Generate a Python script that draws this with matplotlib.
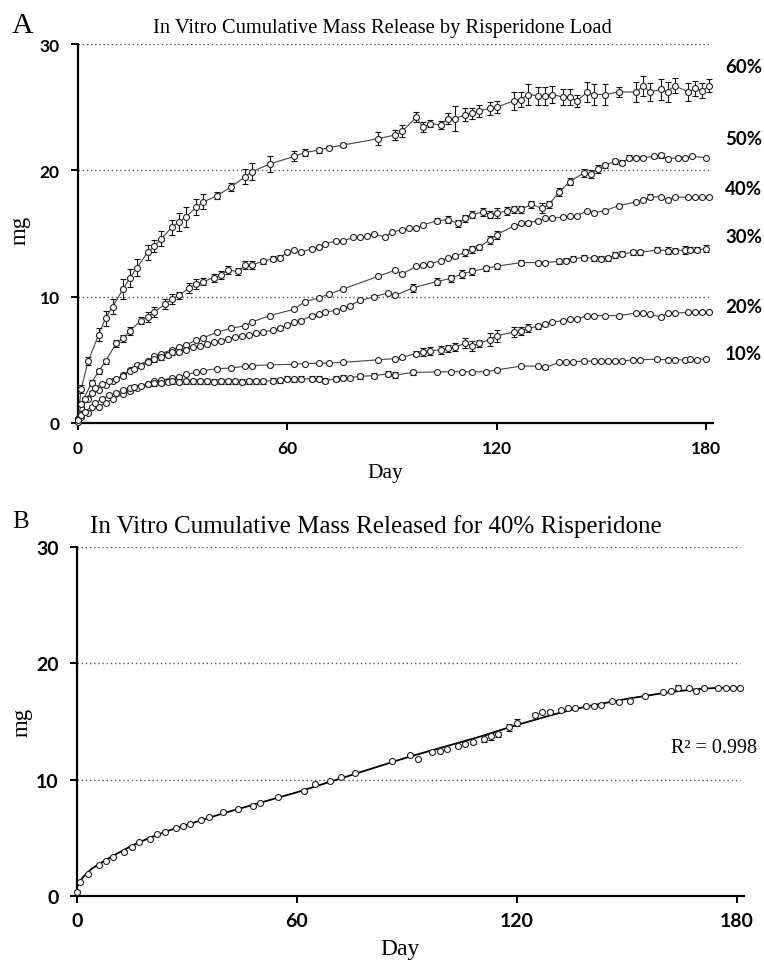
"""
Liberação cumulativa in vitro de risperidona (painéis A e B).
"""
import matplotlib

matplotlib.use("Agg")
import matplotlib.pyplot as plt

SERIF = ["Liberation Serif", "DejaVu Serif"]
SANS = ["Lato", "DejaVu Sans"]

# --- painel A: dias, média (mg) e erro por carga ---
days_60 = [0, 1, 3, 6, 8, 10, 13, 15, 17, 20, 22, 24, 27, 29, 31, 34, 36, 40, 44, 48, 50, 55,
           62, 65, 69, 72, 76, 86, 91, 93, 97, 99, 101, 104, 106, 108, 111, 113, 115, 118, 120,
           125, 127, 129, 132, 134, 136, 139, 141, 143, 146, 148, 151, 155, 160, 162, 164, 167,
           169, 171, 175, 177, 179, 181]
mg_60 = [0.3, 2.7, 4.9, 7.0, 8.3, 9.2, 10.6, 11.5, 12.3, 13.5, 14.0, 14.6, 15.5, 15.9, 16.3, 17.1,
         17.5, 18.0, 18.7, 19.5, 19.9, 20.5, 21.1, 21.4, 21.6, 21.8, 22.0, 22.5, 22.8, 23.1, 24.2,
         23.4, 23.7, 23.6, 24.1, 24.1, 24.4, 24.5, 24.7, 24.9, 25.0, 25.5, 25.6, 26.0, 25.9, 25.9,
         26.0, 25.8, 25.8, 25.5, 26.2, 26.0, 26.0, 26.2, 26.2, 26.7, 26.2, 26.4, 26.2, 26.7, 26.2,
         26.5, 26.3, 26.7]
err_60 = [0.1, 0.3, 0.3, 0.5, 0.6, 0.6, 0.8, 0.7, 0.7, 0.6, 0.5, 0.6, 0.6, 0.7, 0.8, 0.6, 0.6,
          0.3, 0.3, 0.6, 0.7, 0.6, 0.4, 0.3, 0.2, 0.15, 0.15, 0.5, 0.4, 0.5, 0.4, 0.4, 0.3, 0.3,
          0.4, 1.0, 0.5, 0.4, 0.5, 0.5, 0.5, 0.7, 0.6, 0.8, 0.7, 0.7, 0.7, 0.6, 0.6, 0.5, 0.8,
          0.8, 0.8, 0.4, 0.8, 0.8, 0.7, 0.8, 0.8, 0.6, 0.7, 0.6, 0.6, 0.5]

days_50 = [0, 1, 4, 6, 8, 11, 13, 15, 18, 20, 22, 25, 27, 29, 32, 34, 36, 39, 41, 43, 46, 48, 50,
           53, 56, 58, 60, 62, 64, 67, 69, 71, 74, 76, 79, 81, 83, 85, 88, 90, 93, 95, 97, 99, 103,
           106, 109, 111, 113, 116, 118, 120, 123, 125, 127, 130, 133, 135, 138, 141, 145, 147,
           149, 151, 154, 156, 158, 160, 162, 165, 167, 169, 172, 174, 176, 180]
mg_50 = [0.3, 1.5, 3.2, 4.1, 4.9, 6.3, 6.7, 7.3, 8.1, 8.4, 8.8, 9.4, 9.8, 10.1, 10.7, 11.0, 11.2,
         11.5, 11.7, 12.1, 12.0, 12.5, 12.5, 12.8, 13.0, 13.1, 13.5, 13.7, 13.5, 13.8, 13.9, 14.2,
         14.4, 14.4, 14.7, 14.7, 14.8, 15.0, 14.7, 15.1, 15.3, 15.4, 15.4, 15.7, 16.0, 16.1, 15.8,
         16.2, 16.5, 16.7, 16.5, 16.6, 16.8, 16.9, 16.9, 17.3, 17.0, 17.3, 18.3, 19.1, 19.8, 19.7,
         20.1, 20.4, 20.7, 20.6, 21.0, 21.0, 21.0, 21.1, 21.2, 20.9, 21.0, 21.0, 21.1, 21.0]
err_50 = [0.05, 0.2, 0.2, 0.2, 0.2, 0.3, 0.3, 0.3, 0.3, 0.4, 0.4, 0.4, 0.4, 0.3, 0.4, 0.4, 0.3,
          0.3, 0.3, 0.3, 0.3, 0.3, 0.3, 0.2, 0.2, 0.2, 0.15, 0.1, 0.1, 0.1, 0.1, 0, 0, 0, 0, 0,
          0, 0, 0, 0, 0, 0, 0, 0, 0.2, 0.3, 0.3, 0.3, 0.3, 0.3, 0.3, 0.4, 0.3, 0.3, 0.3, 0.3,
          0.4, 0.3, 0.3, 0.3, 0.3, 0.3, 0.3, 0.2, 0.2, 0.2, 0.2, 0.1, 0.1, 0.1, 0.2, 0.1, 0.1,
          0, 0, 0]

days_40 = [0, 1, 3, 6, 8, 10, 13, 15, 17, 20, 22, 24, 27, 29, 31, 34, 36, 40, 44, 48, 50, 55, 62,
           65, 69, 72, 76, 86, 91, 93, 97, 99, 101, 104, 106, 108, 111, 113, 115, 118, 120, 125,
           127, 129, 132, 134, 136, 139, 141, 143, 146, 148, 151, 155, 160, 162, 164, 167, 169,
           171, 175, 177, 179, 181]
mg_40 = [0.35, 1.2, 1.9, 2.65, 3.0, 3.3, 3.8, 4.2, 4.6, 4.9, 5.3, 5.5, 5.8, 6.0, 6.2, 6.55, 6.75,
         7.2, 7.5, 7.7, 8.0, 8.5, 9.0, 9.6, 9.9, 10.2, 10.6, 11.6, 12.1, 11.8, 12.4, 12.5, 12.6,
         12.85, 13.05, 13.2, 13.5, 13.75, 13.9, 14.5, 14.9, 15.6, 15.8, 15.85, 16.0, 16.2, 16.2,
         16.3, 16.35, 16.4, 16.8, 16.65, 16.8, 17.2, 17.5, 17.65, 17.9, 17.9, 17.65, 17.9, 17.85,
         17.85, 17.85, 17.85]
err_40 = [0.05, 0.05, 0.05, 0.05, 0.05, 0.05, 0.05, 0.05, 0.05, 0.05, 0.05, 0.05, 0.05, 0.05,
          0.05, 0.05, 0.05, 0.05, 0.05, 0.05, 0.05, 0.05, 0.05, 0.05, 0.05, 0.05, 0.05, 0.05,
          0.05, 0.05, 0.05, 0.05, 0.05, 0.05, 0.05, 0.1, 0.3, 0.3, 0.2, 0.3, 0.3, 0.1, 0.1, 0.1,
          0.05, 0.05, 0.05, 0.05, 0.05, 0.05, 0.05, 0.05, 0.05, 0.05, 0.05, 0.05, 0.2, 0.05,
          0.05, 0.05, 0.05, 0.05, 0.05, 0.05]

days_30 = [0, 1, 2, 4, 5, 7, 9, 11, 13, 15, 16, 18, 20, 22, 24, 26, 27, 29, 31, 33, 35, 37, 39,
           41, 43, 45, 47, 49, 51, 53, 56, 58, 60, 62, 64, 67, 69, 71, 74, 76, 78, 81, 85, 89, 91,
           96, 103, 107, 110, 113, 117, 120, 127, 132, 134, 138, 140, 142, 145, 148, 150, 152,
           154, 156, 159, 161, 166, 169, 171, 174, 175.5, 177.5, 180]
mg_30 = [0.3, 1.5, 1.9, 2.4, 2.8, 3.1, 3.3, 3.5, 3.75, 4.15, 4.3, 4.55, 4.8, 5.05, 5.2, 5.4, 5.6,
         5.65, 5.8, 6.0, 6.1, 6.25, 6.4, 6.5, 6.65, 6.8, 6.9, 6.95, 7.1, 7.2, 7.35, 7.5, 7.75, 8.0,
         8.1, 8.5, 8.6, 8.8, 8.9, 9.1, 9.3, 9.7, 10.0, 10.3, 10.1, 10.7, 11.2, 11.45, 11.8, 12.0,
         12.25, 12.4, 12.7, 12.7, 12.7, 12.8, 12.85, 13.0, 13.1, 13.05, 13.0, 13.05, 13.3, 13.4,
         13.5, 13.5, 13.7, 13.65, 13.65, 13.7, 13.7, 13.7, 13.8]
err_30 = [0.05, 0.1, 0.1, 0.1, 0.1, 0.1, 0.1, 0.1, 0.1, 0.1, 0.1, 0.1, 0.1, 0.2, 0.2, 0.2, 0.2,
          0.2, 0.1, 0.1, 0.1, 0.1, 0.1, 0.1, 0.1, 0.1, 0.1, 0.1, 0.1, 0.1, 0.1, 0.1, 0.1, 0.1,
          0.1, 0.1, 0.1, 0.1, 0.1, 0.1, 0.1, 0.1, 0.1, 0.1, 0.1, 0.3, 0.3, 0.3, 0.3, 0.3, 0.2,
          0.2, 0.2, 0.1, 0.1, 0.2, 0.2, 0.2, 0.2, 0.2, 0.2, 0.2, 0.2, 0.2, 0.2, 0.2, 0.2, 0.3,
          0.2, 0.3, 0.2, 0.2, 0.3]

days_20 = [0, 1, 3, 6, 8, 10, 13, 15, 17, 20, 22, 24, 27, 29, 31, 34, 36, 40, 44, 48, 50, 55, 62,
           65, 69, 72, 76, 86, 91, 93, 97, 99, 101, 104, 106, 108, 111, 113, 115, 118, 120, 125,
           127, 129, 132, 134, 136, 139, 141, 143, 146, 148, 151, 155, 160, 162, 164, 167, 169,
           171, 175, 177, 179, 181]
mg_20 = [0.1, 0.5, 0.8, 1.3, 1.6, 1.9, 2.3, 2.5, 2.75, 3.05, 3.3, 3.4, 3.55, 3.65, 3.85, 4.0,
         4.15, 4.3, 4.35, 4.5, 4.55, 4.6, 4.65, 4.7, 4.72, 4.75, 4.8, 5.0, 5.1, 5.2, 5.5, 5.6,
         5.7, 5.8, 5.9, 6.0, 6.3, 6.1, 6.3, 6.6, 6.9, 7.2, 7.3, 7.5, 7.65, 7.8, 8.0, 8.1, 8.2,
         8.2, 8.5, 8.5, 8.5, 8.5, 8.7, 8.7, 8.6, 8.4, 8.7, 8.7, 8.75, 8.75, 8.75, 8.75]
err_20 = [0.05, 0.05, 0.05, 0.05, 0.05, 0.05, 0.05, 0.05, 0.05, 0.05, 0.05, 0.05, 0.05, 0.05,
          0.05, 0.05, 0.05, 0.05, 0.05, 0.05, 0.05, 0.05, 0.05, 0.05, 0.05, 0.05, 0.05, 0.05,
          0.05, 0.1, 0.2, 0.3, 0.3, 0.3, 0.3, 0.3, 0.4, 0.4, 0.3, 0.5, 0.5, 0.4, 0.3, 0.3, 0.2,
          0.1, 0.1, 0.05, 0.05, 0.05, 0.05, 0.05, 0.05, 0.05, 0.05, 0.05, 0.05, 0.05, 0.05,
          0.05, 0.05, 0.05, 0.05, 0.05]

days_10 = days_30
mg_10 = [0.2, 0.6, 0.9, 1.3, 1.6, 1.9, 2.2, 2.4, 2.6, 2.75, 2.85, 2.95, 3.05, 3.15, 3.2, 3.25,
         3.3, 3.25, 3.3, 3.3, 3.3, 3.3, 3.25, 3.3, 3.3, 3.3, 3.25, 3.3, 3.3, 3.3, 3.35, 3.4, 3.5,
         3.45, 3.5, 3.5, 3.5, 3.35, 3.5, 3.6, 3.6, 3.7, 3.75, 3.9, 3.8, 4.0, 4.05, 4.05, 4.05,
         4.05, 4.05, 4.2, 4.5, 4.5, 4.4, 4.8, 4.85, 4.85, 4.9, 4.9, 4.9, 4.9, 4.9, 4.9, 5.0, 5.0,
         5.05, 5.0, 5.0, 5.0, 5.05, 5.0, 5.1]
err_10 = [0.05, 0.05, 0.05, 0.05, 0.05, 0.05, 0.05, 0.05, 0.05, 0.1, 0.1, 0.1, 0.15, 0.2, 0.2,
          0.2, 0.2, 0.2, 0.2, 0.2, 0.2, 0.2, 0.2, 0.2, 0.2, 0.2, 0.2, 0.2, 0.2, 0.2, 0.2, 0.2,
          0.2, 0.2, 0.2, 0.2, 0.2, 0.2, 0.2, 0.2, 0.05, 0.2, 0.2, 0.2, 0.2, 0.2, 0.05, 0.05,
          0.05, 0.05, 0.05, 0.05, 0.1, 0.1, 0.1, 0.05, 0.05, 0.05, 0.05, 0.05, 0.05, 0.05, 0.05,
          0.05, 0.05, 0.05, 0.05, 0.05, 0.05, 0.05, 0.1, 0.05, 0.05]

load_labels = ["60%", "50%", "40%", "30%", "20%", "10%"]
label_y = [28.2, 22.5, 18.6, 14.8, 9.2, 5.5]

# --- painel B: curva ajustada ---
fit_days = [0, 1, 2, 4, 6, 8, 10, 15, 20, 25, 30, 35, 40, 45, 50, 55, 60, 65, 70, 75, 80, 85,
            90, 95, 100, 105, 110, 115, 120, 125, 130, 135, 140, 145, 150, 155, 160, 165, 170,
            175, 181]
fit_mg = [0.7, 1.3, 1.7, 2.3, 2.7, 3.1, 3.45, 4.3, 5.0, 5.6, 6.1, 6.6, 7.1, 7.55, 8.0, 8.45,
          8.9, 9.4, 9.9, 10.4, 10.9, 11.4, 11.9, 12.35, 12.8, 13.25, 13.7, 14.2, 14.7, 15.15,
          15.6, 16.0, 16.35, 16.65, 16.95, 17.2, 17.45, 17.65, 17.8, 17.9, 17.92]

TITLE_A = "In Vitro Cumulative Mass Release by Risperidone Load"
TITLE_B = "In Vitro Cumulative Mass Released for 40% Risperidone"


def style_axes(ax, tick_size):
    ax.set_xlim(0, 182)
    ax.set_ylim(0, 30)
    for side in ("top", "right"):
        ax.spines[side].set_visible(False)
    for side in ("left", "bottom"):
        ax.spines[side].set_linewidth(1.6)
    ax.set_xticks([0, 60, 120, 180])
    ax.set_yticks([0, 10, 20, 30])
    ax.tick_params(direction="out", length=5, width=1.4, labelsize=tick_size)
    ax.tick_params(axis="x", pad=7)
    ax.tick_params(axis="y", pad=8)
    for lab in ax.get_xticklabels() + ax.get_yticklabels():
        lab.set_family(SANS)
        lab.set_weight("bold")
    ax.hlines([10, 20, 30], 0, 181, colors="#555555", linestyles=(0, (1, 2)), lw=1.0, zorder=0)


fig = plt.figure(figsize=(7.64, 9.62), dpi=100)

# painel A
ax_a = fig.add_axes([77.7 / 764, 538 / 962, 635.2 / 764, 379 / 962])
style_axes(ax_a, 12.5)
series = [
    (days_60, mg_60, err_60),
    (days_50, mg_50, err_50),
    (days_40, mg_40, err_40),
    (days_30, mg_30, err_30),
    (days_20, mg_20, err_20),
    (days_10, mg_10, err_10),
]
for d, m, e in series:
    ax_a.errorbar(d, m, yerr=e, fmt="-o", color="#444444", lw=0.8, ms=4.3, mfc="white",
                  mec="#222222", mew=0.8, ecolor="#111111", elinewidth=0.8, capsize=2,
                  capthick=0.8, clip_on=False, zorder=3)
for lab, y in zip(load_labels, label_y):
    ax_a.text(185.5, y, lab, family=SANS, weight="bold", fontsize=13.5, va="center",
              ha="left")

# painel B
ax_b = fig.add_axes([76.7 / 764, 65.3 / 962, 667.4 / 764, 348.4 / 962])
style_axes(ax_b, 14)
ax_b.plot(fit_days, fit_mg, color="black", lw=1.3, zorder=2)
ax_b.errorbar(days_40, mg_40, yerr=err_40, fmt="o", ms=4.3, mfc="white", mec="#222222",
              mew=0.8, ecolor="#111111", elinewidth=0.8, capsize=2, capthick=0.8,
              clip_on=False, zorder=3)
ax_b.text(185.5, 12.8, "R² = 0.998", family=SERIF, fontsize=14.5, ha="right", va="center")

# rótulos de eixo e títulos em coordenadas da figura
fig.text(385.5 / 764, 1 - 474 / 962, "Day", family=SERIF, fontsize=15.5, ha="center",
         va="center")
fig.text(400 / 764, 1 - 950 / 962, "Day", family=SERIF, fontsize=17, ha="center",
         va="center")
fig.text(20.5 / 764, 1 - 230 / 962, "mg", family=SERIF, fontsize=16.5, rotation=90,
         ha="center", va="center")
fig.text(22.5 / 764, 1 - 722 / 962, "mg", family=SERIF, fontsize=16.5, rotation=90,
         ha="center", va="center")
fig.text(12 / 764, 1 - 33 / 962, "A", family=SERIF, fontsize=21.5, va="baseline")
fig.text(12 / 764, 1 - 528 / 962, "B", family=SERIF, fontsize=18, va="baseline")
fig.text(382 / 764, 1 - 33 / 962, TITLE_A, family=SERIF, fontsize=14.8, ha="center",
         va="baseline")
fig.text(376 / 764, 1 - 533 / 962, TITLE_B, family=SERIF, fontsize=18, ha="center",
         va="baseline")

fig.savefig("out.png", dpi=100)
plt.close(fig)
